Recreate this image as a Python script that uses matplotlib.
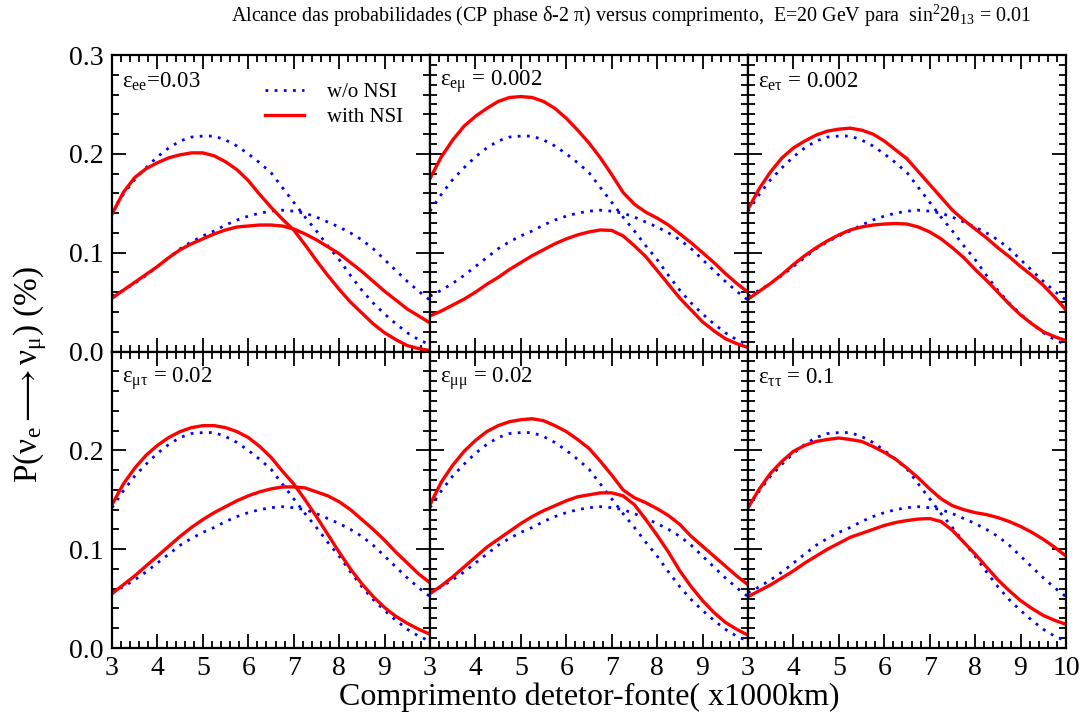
import matplotlib
matplotlib.use("Agg")
import matplotlib.pyplot as plt
from matplotlib.ticker import MultipleLocator

plt.rcParams['font.family'] = ['Liberation Serif', 'DejaVu Serif']
plt.rcParams['mathtext.fontset'] = 'stix'
plt.rcParams['mathtext.default'] = 'regular'

# baseline length (x1000 km)
L = [3.0, 3.25, 3.5, 3.75, 4.0, 4.25, 4.5, 4.75, 5.0, 5.25, 5.5, 5.75, 6.0, 6.25, 6.5,
     6.75, 7.0, 7.25, 7.5, 7.75, 8.0, 8.25, 8.5, 8.75, 9.0, 9.25, 9.5, 9.75, 10.0]

# w/o NSI (same in every panel)
blue_upper = [0.142, 0.159, 0.174, 0.186, 0.197, 0.206, 0.213, 0.217, 0.218, 0.218, 0.214, 0.208, 0.200, 0.191, 0.181,
              0.166, 0.151, 0.136, 0.122, 0.107, 0.093, 0.077, 0.062, 0.049, 0.038, 0.028, 0.019, 0.012, 0.007]
blue_lower = [0.056, 0.062, 0.069, 0.077, 0.086, 0.095, 0.104, 0.111, 0.117, 0.122, 0.128, 0.133, 0.137, 0.140, 0.142,
              0.143, 0.142, 0.140, 0.136, 0.131, 0.126, 0.120, 0.113, 0.104, 0.093, 0.082, 0.071, 0.061, 0.052]

# with NSI, one pair per panel
ee_upper = [0.139, 0.161, 0.176, 0.185, 0.191, 0.196, 0.199, 0.201, 0.201, 0.198, 0.192, 0.184, 0.173, 0.159, 0.146,
            0.134, 0.123, 0.108, 0.092, 0.077, 0.063, 0.050, 0.039, 0.028, 0.019, 0.012, 0.006, 0.003, 0.001]
ee_lower = [0.054, 0.062, 0.070, 0.078, 0.086, 0.095, 0.103, 0.109, 0.114, 0.119, 0.123, 0.126, 0.127, 0.128, 0.128,
            0.127, 0.124, 0.119, 0.113, 0.106, 0.099, 0.090, 0.081, 0.071, 0.061, 0.052, 0.043, 0.036, 0.029]
em_upper = [0.175, 0.197, 0.214, 0.228, 0.238, 0.246, 0.253, 0.257, 0.258, 0.257, 0.253, 0.246, 0.236, 0.224, 0.211,
            0.196, 0.179, 0.161, 0.149, 0.141, 0.135, 0.128, 0.119, 0.110, 0.100, 0.090, 0.079, 0.069, 0.060]
em_lower = [0.036, 0.041, 0.047, 0.053, 0.060, 0.068, 0.075, 0.083, 0.090, 0.097, 0.103, 0.109, 0.114, 0.118, 0.121,
            0.123, 0.1225, 0.117, 0.107, 0.096, 0.082, 0.068, 0.054, 0.042, 0.030, 0.021, 0.013, 0.008, 0.004]
et_upper = [0.144, 0.165, 0.182, 0.196, 0.206, 0.213, 0.219, 0.223, 0.225, 0.226, 0.224, 0.220, 0.213, 0.204, 0.195,
            0.182, 0.169, 0.156, 0.143, 0.133, 0.124, 0.115, 0.105, 0.096, 0.086, 0.077, 0.067, 0.055, 0.042]
et_lower = [0.053, 0.061, 0.069, 0.078, 0.088, 0.097, 0.105, 0.112, 0.118, 0.123, 0.126, 0.128, 0.129, 0.1295, 0.129,
            0.126, 0.121, 0.114, 0.105, 0.095, 0.083, 0.072, 0.060, 0.048, 0.037, 0.028, 0.020, 0.015, 0.011]
mt_upper = [0.145, 0.166, 0.182, 0.195, 0.205, 0.213, 0.219, 0.223, 0.225, 0.225, 0.223, 0.219, 0.213, 0.204, 0.193,
            0.179, 0.166, 0.150, 0.133, 0.115, 0.097, 0.080, 0.065, 0.052, 0.041, 0.032, 0.025, 0.019, 0.014]
mt_lower = [0.055, 0.064, 0.073, 0.083, 0.093, 0.103, 0.113, 0.122, 0.130, 0.137, 0.143, 0.149, 0.154, 0.158, 0.161,
            0.163, 0.163, 0.162, 0.158, 0.154, 0.148, 0.140, 0.130, 0.120, 0.109, 0.097, 0.086, 0.075, 0.066]
mm_upper = [0.145, 0.168, 0.185, 0.199, 0.210, 0.219, 0.225, 0.229, 0.231, 0.232, 0.230, 0.225, 0.219, 0.211, 0.202,
            0.189, 0.175, 0.160, 0.152, 0.147, 0.141, 0.134, 0.125, 0.113, 0.103, 0.093, 0.083, 0.073, 0.064]
mm_lower = [0.055, 0.063, 0.072, 0.082, 0.092, 0.102, 0.110, 0.118, 0.126, 0.133, 0.139, 0.144, 0.149, 0.153, 0.155,
            0.157, 0.157, 0.154, 0.145, 0.130, 0.114, 0.097, 0.078, 0.062, 0.048, 0.036, 0.026, 0.019, 0.013]
tt_upper = [0.142, 0.161, 0.177, 0.189, 0.199, 0.205, 0.209, 0.211, 0.2125, 0.211, 0.209, 0.204, 0.198, 0.191, 0.182,
            0.172, 0.161, 0.151, 0.144, 0.140, 0.137, 0.135, 0.132, 0.128, 0.123, 0.117, 0.110, 0.102, 0.093]
tt_lower = [0.052, 0.058, 0.064, 0.071, 0.078, 0.086, 0.093, 0.100, 0.106, 0.112, 0.116, 0.120, 0.124, 0.127, 0.129,
            0.1305, 0.131, 0.128, 0.119, 0.107, 0.095, 0.082, 0.069, 0.058, 0.048, 0.040, 0.033, 0.028, 0.024]

labels = [r'$\varepsilon_{ee}$=0.03', r'$\varepsilon_{e\mu}$ = 0.002', r'$\varepsilon_{e\tau}$ = 0.002',
          r'$\varepsilon_{\mu\tau}$ = 0.02', r'$\varepsilon_{\mu\mu}$ = 0.02', r'$\varepsilon_{\tau\tau}$ = 0.1']
nsi = [(ee_upper, ee_lower), (em_upper, em_lower), (et_upper, et_lower),
       (mt_upper, mt_lower), (mm_upper, mm_lower), (tt_upper, tt_lower)]

fig, axes = plt.subplots(2, 3, figsize=(10.82, 7.23), dpi=100)
fig.subplots_adjust(left=0.1035, right=0.9852, top=0.9239, bottom=0.1037, wspace=0, hspace=0)

dotted = (0, (1, 2.3))
for i, ax in enumerate(axes.flat):
    row, col = divmod(i, 3)
    ax.plot(L, blue_upper, color='#0000ff', lw=2, ls=dotted)
    ax.plot(L, blue_lower, color='#0000ff', lw=2, ls=dotted, label='w/o NSI')
    ax.plot(L, nsi[i][0], color='#ff0000', lw=2.4)
    ax.plot(L, nsi[i][1], color='#ff0000', lw=2.4, label='with NSI')
    ax.xaxis.set_minor_locator(MultipleLocator(0.2))
    ax.yaxis.set_minor_locator(MultipleLocator(0.02 if col == 0 else 0.01))
    ax.tick_params(which='both', direction='in', top=True, right=True, labelsize=20, width=1.3)
    ax.tick_params(which='major', length=10, pad=6)
    ax.tick_params(which='minor', length=5)
    for s in ax.spines.values():
        s.set_linewidth(1.6)

    xt = [3, 4, 5, 6, 7, 8, 9, 10]
    ax.set_xticks(xt)
    if row == 1 and col < 2:
        ax.set_xticklabels([str(v) for v in xt[:-1]] + [''])
    elif row == 1:
        ax.set_xticklabels([str(v) for v in xt])
    else:
        ax.set_xticklabels([])

    yt = [0.0, 0.1, 0.2, 0.3]
    ax.set_yticks(yt)
    if col == 0 and row == 0:
        ax.set_yticklabels(['0.0', '0.1', '0.2', '0.3'])
    elif col == 0:
        ax.set_yticklabels(['0.0', '0.1', '0.2', ''])
    else:
        ax.set_yticklabels([])
    ax.set_xlim(3, 10)
    ax.set_ylim(0, 0.3)
    ax.text(0.03, 0.91, labels[i], transform=ax.transAxes, fontsize=16.5, ha='left', va='center')

axes[0, 0].legend(loc='upper right', bbox_to_anchor=(0.975, 0.97), frameon=False, fontsize=15,
                  handlelength=1.9, handletextpad=1.1, labelspacing=0.25)

fig.text(0.583, 0.978, r'Alcance das probabilidades (CP phase $\delta$-2 $\pi$) versus comprimento,  E=20 GeV para  sin$^2$2$\theta_{13}$ = 0.01',
         ha='center', va='center', fontsize=14.4)
fig.text(0.545, 0.035, 'Comprimento detetor-fonte( x1000km)', ha='center', va='center', fontsize=23)
fig.text(0.028, 0.482, r'P($\nu_e\longrightarrow\nu_\mu$) (%)', ha='center', va='center', rotation=90, fontsize=24)

fig.savefig('out.png', dpi=100)
